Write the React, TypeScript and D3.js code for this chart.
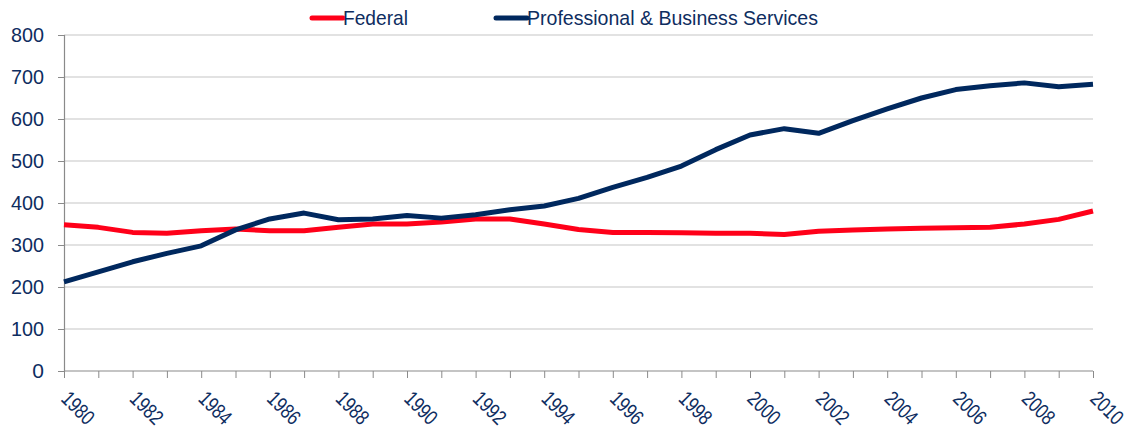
import React, { useEffect, useRef } from "react";
import * as d3 from "d3";

// Employment (thousands), 1980-2010
const years = d3.range(1980, 2011);
const federal = [
  348, 342, 330, 328, 334, 338, 334, 334, 342, 350, 350, 355, 362, 362, 350,
  337, 330, 330, 329, 328, 328, 325, 333, 336, 338, 340, 341, 342, 350, 361, 381,
];
const proBusiness = [
  212, 236, 260, 280, 298, 336, 362, 376, 360, 362, 370, 364, 372, 384, 393,
  411, 437, 461, 488, 527, 562, 577, 566, 596, 624, 650, 670, 679, 686, 677, 683,
];
const yTicks = [0, 100, 200, 300, 400, 500, 600, 700, 800];
const seriesNames = ["Federal", "Professional & Business Services"];
const legendWidths = [65, 291];
const colors = ["#FF0019", "#00285E"];

const App = () => {
  const svgRef = useRef(null);

  useEffect(() => {
    const W = 1128;
    const H = 434;
    const margin = { top: 35, right: 35, bottom: 63, left: 64 };
    const width = W - margin.left - margin.right;
    const height = H - margin.top - margin.bottom;
    const font = "'Liberation Sans', Arial, sans-serif";
    const textColor = "#0E2D5F";

    const root = d3.select(svgRef.current);
    root.selectAll("*").remove();
    root.attr("width", W).attr("height", H);

    const svg = root
      .append("g")
      .attr("transform", `translate(${margin.left},${margin.top})`);

    const x = d3.scaleLinear().domain([1980, 2010]).range([0, width]);
    const y = d3.scaleLinear().domain([0, 800]).range([height, 0]);

    // gridlines
    svg
      .selectAll(".grid")
      .data(yTicks.filter((d) => d > 0))
      .enter()
      .append("line")
      .attr("x1", 0)
      .attr("x2", width)
      .attr("y1", (d) => y(d))
      .attr("y2", (d) => y(d))
      .attr("stroke", "#C6C6C6")
      .attr("stroke-width", 1.2);

    // y axis
    const yAxis = svg
      .append("g")
      .call(d3.axisLeft(y).tickValues(yTicks).tickSize(6).tickPadding(14));
    yAxis.select(".domain").attr("stroke", "#8A8A8A").attr("stroke-width", 1.2);
    yAxis.selectAll(".tick line").attr("stroke", "#8A8A8A");
    yAxis
      .selectAll("text")
      .attr("font-family", font)
      .attr("font-size", 21)
      .attr("textLength", 33)
      .attr("lengthAdjust", "spacingAndGlyphs")
      .attr("fill", textColor);
    // single digit label keeps its natural width
    yAxis.selectAll("text").filter((d) => d === 0).attr("textLength", null);

    // x axis
    const xAxis = svg
      .append("g")
      .attr("transform", `translate(0,${height})`)
      .call(d3.axisBottom(x).tickValues(years).tickSize(7).tickFormat(() => ""))
      .call((g) => g.select(".domain").attr("d", `M0,0H${width}`));
    xAxis.select(".domain").attr("stroke", "#8A8A8A").attr("stroke-width", 1.2);
    xAxis.selectAll(".tick line").attr("stroke", "#8A8A8A");

    svg
      .append("g")
      .selectAll("text")
      .data(years.filter((d) => d % 2 === 0))
      .enter()
      .append("text")
      .attr("transform", (d) => `translate(${x(d) - 4},${height + 29}) rotate(45)`)
      .attr("font-family", font)
      .attr("font-size", 21)
      .attr("textLength", 37)
      .attr("lengthAdjust", "spacingAndGlyphs")
      .attr("fill", textColor)
      .text((d) => d);

    // lines
    const line = d3
      .line()
      .x((d) => x(d[0]))
      .y((d) => y(d[1]));

    [federal, proBusiness].forEach((vals, i) => {
      svg
        .append("path")
        .datum(years.map((yr, j) => [yr, vals[j]]))
        .attr("fill", "none")
        .attr("stroke", colors[i])
        .attr("stroke-width", 5)
        .attr("stroke-linejoin", "round")
        .attr("d", line);
    });

    // legend
    const legendX = [312, 496];
    const legend = root.append("g");
    seriesNames.forEach((name, i) => {
      legend
        .append("line")
        .attr("x1", legendX[i])
        .attr("x2", legendX[i] + 31)
        .attr("y1", 18)
        .attr("y2", 18)
        .attr("stroke", colors[i])
        .attr("stroke-width", 5)
        .attr("stroke-linecap", "round");
      legend
        .append("text")
        .attr("x", legendX[i] + 31)
        .attr("y", 25)
        .attr("font-family", font)
        .attr("font-size", 21)
        .attr("textLength", legendWidths[i])
        .attr("lengthAdjust", "spacingAndGlyphs")
        .attr("fill", textColor)
        .text(name);
    });
  }, []);

  return (
    <svg
      ref={svgRef}
      style={{ position: "absolute", left: 0, top: 0, background: "#fff" }}
    ></svg>
  );
};

export default App;
